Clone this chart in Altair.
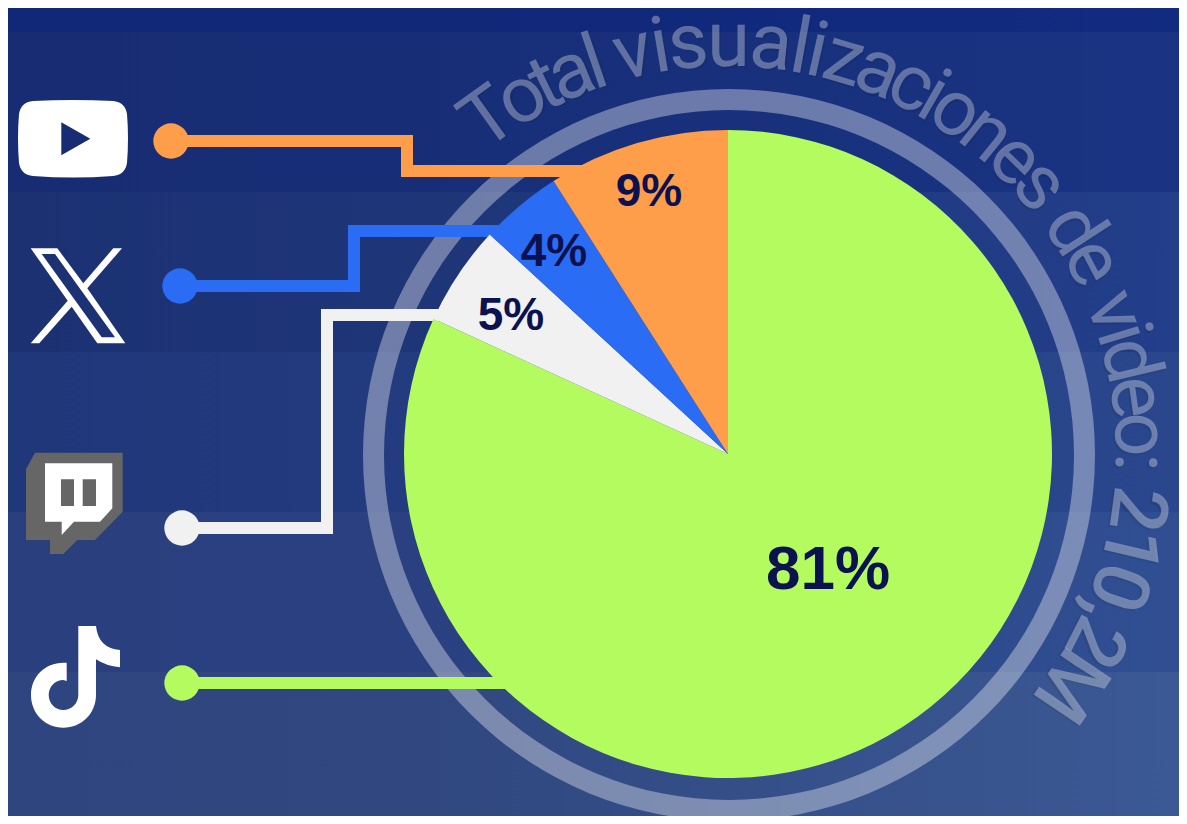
import altair as alt
import numpy as np
import pandas as pd
import math

# ---- chart values ----
platforms = ["TikTok", "Twitch", "X", "YouTube"]
shares = [81.85, 5.0, 4.1, 9.05]
share_labels = ["81%", "5%", "4%", "9%"]
slice_colors = ["#b3fb5f", "#f1f1f1", "#2a6cf3", "#ff9e4a"]
title_text = "Total visualizaciones de video: 210,2M"

W, H = 1187, 824
M = 8
CX, CY, R = 728, 454, 324

sx = alt.Scale(domain=[M, W - M], range=[0, W - 2 * M], nice=False, zero=False)
sy = alt.Scale(domain=[M, H - M], range=[0, H - 2 * M], nice=False, zero=False)

def X(f="x:Q"):
    return alt.X(f, scale=sx, axis=None)

def Y(f="y:Q"):
    return alt.Y(f, scale=sy, axis=None)

layers = []

# ---- background bands ----
bands = [
    (0, 32, "#112879", "#112879", "#112b80"),
    (32, 192, "#172c72", "#172e77", "#1a3483"),
    (192, 352, "#1b3172", "#1e3578", "#233e8a"),
    (352, 512, "#20377a", "#233b7f", "#2a478d"),
    (512, 672, "#293f7e", "#2a4080", "#304f92"),
    (672, 816, "#2f4580", "#30477f", "#3b5995"),
]
for y0, y1, c0, c1, c2 in bands:
    g = alt.Gradient(gradient="linear", x1=0, x2=1, y1=0, y2=0,
                     stops=[alt.GradientStop(color=c0, offset=0), alt.GradientStop(color=c1, offset=0.35),
                            alt.GradientStop(color=c2, offset=1)])
    layers.append(alt.Chart(pd.DataFrame({"x": [M], "x2": [W - M], "y": [max(y0, M)], "y2": [y1]}))
                  .mark_rect(color=g)
                  .encode(x=X(), x2="x2:Q", y=Y(), y2="y2:Q"))

# ---- ring ----
layers.append(alt.Chart(pd.DataFrame({"x": [729], "y": [455]}))
              .mark_arc(radius=366, radius2=345, theta=0, theta2=2 * math.pi, color="#ffffff", opacity=0.36)
              .encode(x=X(), y=Y()))

# ---- connectors ----
connectors = [
    ("#ff9e4a", [(171, 141), (407, 141), (407, 171), (584, 171)]),
    ("#2a6cf3", [(180, 286), (354, 286), (354, 231), (500, 231)]),
    ("#f1f1f1", [(182, 528), (327, 528), (327, 315), (445, 315)]),
    ("#b3fb5f", [(182, 683), (510, 683)]),
]
for col, pts in connectors:
    df = pd.DataFrame({"x": [p[0] for p in pts], "y": [p[1] for p in pts], "o": range(len(pts))})
    layers.append(alt.Chart(df).mark_line(color=col, strokeWidth=12, strokeCap="butt", strokeJoin="miter")
                  .encode(x=X(), y=Y(), order="o:Q"))
    layers.append(alt.Chart(df.iloc[[0]]).mark_circle(color=col, size=1253, opacity=1)
                  .encode(x=X(), y=Y()))

# ---- pie ----
pie = pd.DataFrame({"platform": platforms, "share": shares, "order": range(4), "color": slice_colors,
                    "x": [CX] * 4, "y": [CY] * 4})
layers.append(alt.Chart(pie).mark_arc(radius=R)
              .encode(theta=alt.Theta("share:Q", stack=True, scale=alt.Scale(domain=[0, sum(shares)], range=[0, 2 * math.pi])),
                      order=alt.Order("order:Q"),
                      color=alt.Color("color:N", scale=None),
                      x=X(), y=Y()))

# ---- icons: paths in reference pixels, made relative to the icon's centre ----
def rel(path, cx, cy):
    out = []
    for tok in path.split():
        if "," in tok:
            a, b = tok.split(",")
            out.append(f"{float(a) - cx:.1f},{float(b) - cy:.1f}")
        else:
            out.append(tok)
    return " ".join(out)

def icon(path, cx, cy, color):
    return (alt.Chart(pd.DataFrame({"x": [cx], "y": [cy]}))
            .mark_point(shape=rel(path, cx, cy), size=4, filled=True, color=color, opacity=1, strokeWidth=0)
            .encode(x=X(), y=Y()))

def z(pts, ox, oy):
    # zoomed-crop coordinates (3x) to reference pixels
    return [(ox + a / 3, oy + b / 3) for a, b in pts]

def poly(pts):
    return "M " + " L ".join(f"{a:.1f},{b:.1f}" for a, b in pts) + " Z"

yt = ("M 33,101 Q 73,99 113,101 Q 125,102 127,114 Q 129,138 127,163 Q 125,175 113,176 Q 73,179 33,176 "
      "Q 21,175 19,163 Q 17,138 19,114 Q 21,102 33,101 Z "
      "M 61.3,122.3 L 61.3,155.3 L 90.3,138.7 Z")
layers.append(icon(yt, 73, 138, "#ffffff"))

x_outer = [(92, 505), (172, 505), (250, 610), (340, 505), (366, 505), (262, 625), (376, 790), (292, 790),
           (215, 680), (118, 790), (92, 790), (203, 662)]
x_hole = [(125, 522), (305, 772), (345, 772), (165, 522)]
layers.append(icon(poly(z(x_outer, 0, 80)) + " " + poly(z(x_hole, 0, 80)), 78, 296, "#ffffff"))

tw_out = [(105, 68), (368, 68), (368, 245), (285, 330), (232, 330), (190, 372), (150, 372), (150, 330), (78, 330), (78, 118)]
tw_in = [(135, 100), (337, 100), (337, 235), (300, 275), (222, 275), (185, 315), (185, 275), (135, 275)]
tw_b1 = [(183, 148), (183, 228), (222, 228), (222, 148)]
tw_b2 = [(248, 148), (248, 228), (288, 228), (288, 148)]
layers.append(icon(poly(z(tw_out, 0, 430)), 75, 503, "#666666"))
layers.append(icon(poly(z(tw_in, 0, 430)) + " " + poly(z(tw_b1, 0, 430)) + " " + poly(z(tw_b2, 0, 430)), 75, 503, "#ffffff"))

tk = [("M", [(235, 588)]), ("L", [(288, 588)]), ("Q", [(295, 655), (360, 660)]), ("L", [(360, 712)]),
      ("Q", [(318, 708), (288, 688)]), ("L", [(288, 795)]), ("C", [(288, 850), (245, 893), (190, 893)]),
      ("C", [(135, 893), (93, 850), (93, 795)]), ("C", [(93, 740), (135, 698), (190, 698)]),
      ("L", [(200, 698)]), ("L", [(200, 753)]), ("L", [(190, 750)]),
      ("C", [(165, 750), (146, 770), (146, 795)]), ("C", [(146, 820), (165, 840), (190, 840)]),
      ("C", [(215, 840), (235, 820), (235, 795)])]
tk_path = " ".join(c + " " + " ".join(f"{a / 3:.1f},{430 + b / 3:.1f}" for a, b in p) for c, p in tk) + " Z"
layers.append(icon(tk_path, 75, 677, "#ffffff"))

# ---- percentage labels ----
label_pos = [(828, 589, 62), (511, 330, 46), (554, 266, 46), (649, 206, 46)]
labels = pd.DataFrame({"t": share_labels, "x": [p[0] for p in label_pos], "y": [p[1] for p in label_pos],
                       "s": [p[2] for p in label_pos]})
layers.append(alt.Chart(labels).mark_text(font="Liberation Sans", fontWeight="bold", color="#0c1250", align="center",
                                          baseline="alphabetic")
              .encode(x=X(), y=Y(), text="t:N", size=alt.Size("s:Q", scale=None, legend=None)))

# ---- curved title: each glyph placed at the angle, with the reference's soft shadow ----
adv = {"T": .611, "o": .556, "t": .278, "a": .556, "l": .222, " ": .278, "v": .5, "i": .222, "s": .5, "u": .556,
       "z": .5, "c": .5, "n": .556, "e": .556, "d": .556, ":": .278, "2": .556, "1": .556, "0": .556, ",": .278, "M": .833}
chars = list(title_text)
mids, run = [], 0.0
for ch in chars:
    mids.append(run + adv[ch] / 2)
    run += adv[ch]
anchor_idx = [0, 4, 6, 13, 22, 32, 37]          # T, l, v, z, d, 2, M
anchor_deg = [-35.5, -18.8, -13.3, 16.4, 57.0, 97.7, 124.0]
ths = np.interp(mids, [mids[i] for i in anchor_idx], anchor_deg)
RB = 388
curve = pd.DataFrame({
    "c": chars,
    "i": range(len(chars)),
    "x": [CX + RB * math.sin(math.radians(t)) for t in ths],
    "y": [CY - RB * math.cos(math.radians(t)) for t in ths],
    "a": [t % 360 for t in ths],
})
curve = curve[curve.c != " "]
for part, weight in ((curve[curve.i < 32], 400), (curve[curve.i >= 32], 500)):
    shadow = (alt.Chart(part).mark_text(font="Roboto", fontSize=78, fontWeight=weight, color="#000000", opacity=0.06,
                                        align="center", baseline="alphabetic", dx=2, dy=2)
              .encode(x=X(), y=Y(), text="c:N", angle=alt.Angle("a:Q", scale=None), detail="i:O"))
    face = (alt.Chart(part).mark_text(font="Roboto", fontSize=78, fontWeight=weight, color="#ffffff", opacity=0.32,
                                      align="center", baseline="alphabetic")
            .encode(x=X(), y=Y(), text="c:N", angle=alt.Angle("a:Q", scale=None), detail="i:O"))
    layers += [shadow, face]

chart = alt.layer(*layers).properties(
    width=W - 2 * M, height=H - 2 * M, padding=0, autosize=alt.AutoSizeParams(type="none"),
    background="#1c3273",
).configure_view(strokeWidth=0)

chart.save("out.html", embed_options={"renderer": "svg", "actions": False})
